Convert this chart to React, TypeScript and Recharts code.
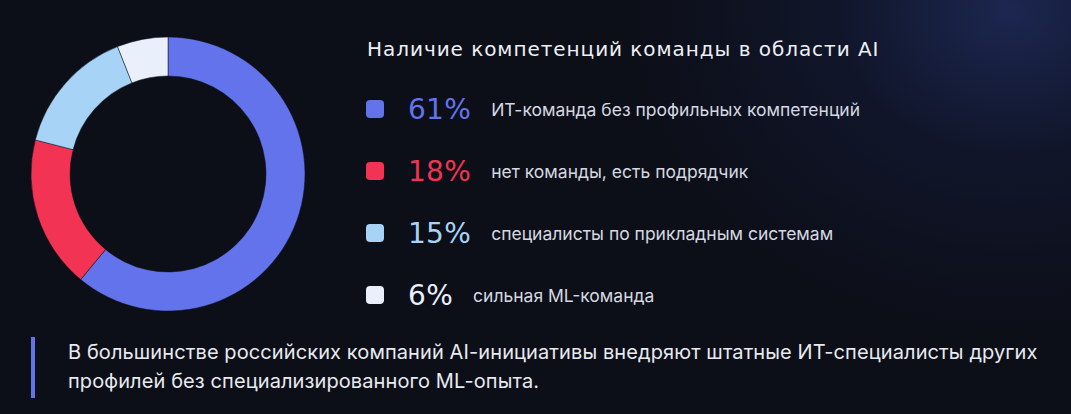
import React from 'react'
import { PieChart, Pie, Cell } from 'recharts'

// shares of teams, clockwise from the top
const labels = [
  'ИТ-команда без профильных компетенций',
  'нет команды, есть подрядчик',
  'специалисты по прикладным системам',
  'сильная ML-команда',
]
const shares = [61, 18, 15, 6]
const colors = ['#6373EC', '#F23353', '#A7D3F7', '#E9F0FC']

const title = 'Наличие компетенций команды в области AI'
const note =
  'В большинстве российских компаний AI-инициативы внедряют штатные ИТ-специалисты других профилей без специализированного ML-опыта.'

const data = labels.map((name, i) => ({ name, value: shares[i] }))

export default function App() {
  return (
    <div
      style={{
        position: 'absolute',
        left: 0,
        top: 0,
        width: 1071,
        height: 414,
        overflow: 'hidden',
        background:
          'radial-gradient(ellipse 380px 320px at 1010px 10px, #1c2750 0%, rgba(20,28,60,0.5) 45%, rgba(12,15,24,0) 100%), #0c0f18',
        fontFamily: 'Inter, "Noto Sans", sans-serif',
      }}
    >
      <div style={{ position: 'absolute', left: 0, top: 0 }}>
        <PieChart width={340} height={350} margin={{ top: 0, right: 0, bottom: 0, left: 0 }}>
          <Pie
            data={data}
            dataKey="value"
            cx={168}
            cy={174}
            innerRadius={98}
            outerRadius={137}
            startAngle={90}
            endAngle={-270}
            stroke="#0c0f18"
            strokeWidth={0.5}
            isAnimationActive={false}
          >
            {data.map((d, i) => (
              <Cell key={d.name} fill={colors[i]} />
            ))}
          </Pie>
        </PieChart>
      </div>

      <div
        style={{
          position: 'absolute',
          left: 367,
          top: 37,
          fontFamily: '"DejaVu Sans", sans-serif',
          fontSize: 20,
          color: '#eef0f5',
          whiteSpace: 'nowrap',
          letterSpacing: 0.95,
        }}
      >
        {title}
      </div>

      {data.map((d, i) => (
        <div
          key={d.name}
          style={{
            position: 'absolute',
            left: 366,
            top: 109 + i * 62 - 20,
            height: 40,
            display: 'flex',
            alignItems: 'center',
            whiteSpace: 'nowrap',
          }}
        >
          <div
            style={{
              width: 18,
              height: 18,
              borderRadius: 4,
              background: colors[i],
              marginRight: 24,
            }}
          />
          <div
            style={{
              fontFamily: '"DejaVu Sans", sans-serif',
              fontSize: 28,
              color: colors[i],
              marginRight: 20,
              letterSpacing: 0.3,
            }}
          >
            {d.value}%
          </div>
          <div style={{ fontSize: 17.5, color: '#d5d8e0' }}>{d.name}</div>
        </div>
      ))}

      <div
        style={{
          position: 'absolute',
          left: 31,
          top: 337,
          width: 4,
          height: 61,
          background: '#6373EC',
        }}
      />
      <div
        style={{
          position: 'absolute',
          left: 68,
          top: 338,
          width: 995,
          fontSize: 20,
          lineHeight: '29px',
          letterSpacing: 0.1,
          color: '#e8eaf0',
        }}
      >
        {note}
      </div>
    </div>
  )
}
